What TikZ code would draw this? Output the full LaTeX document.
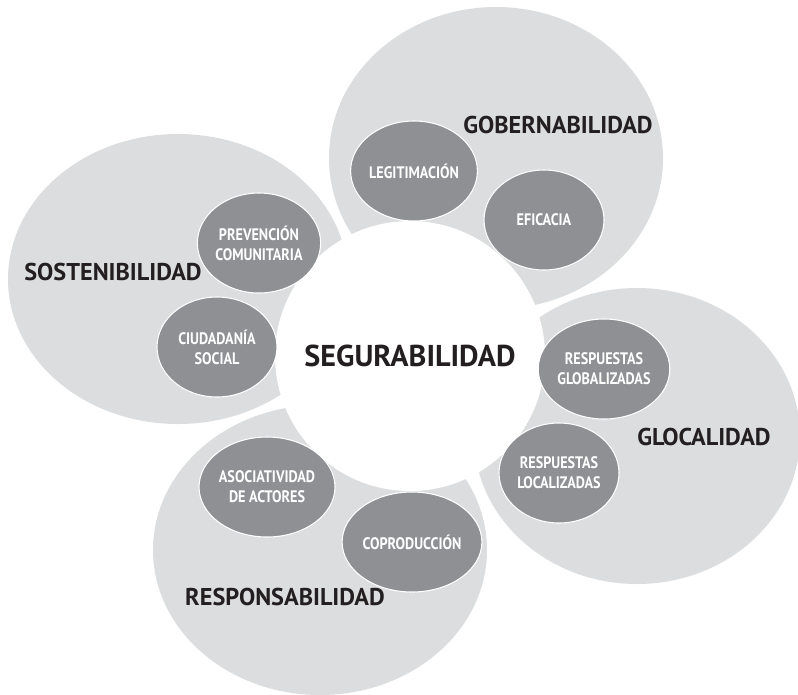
\documentclass[tikz,border=0pt]{standalone}
\usepackage{fontspec}
\setmainfont{PT Sans}
\usetikzlibrary{shapes.geometric}

\definecolor{petalgray}{HTML}{DCDDDE}
\definecolor{budgray}{HTML}{8F9093}
\definecolor{inkdark}{HTML}{231F20}

% horizontally condensed text for the small ellipses
\newcommand{\narrowtxt}[1]{\scalebox{0.85}[1]{#1}}

\tikzset{
  % one pixel of the layout = 0.75pt; y grows downwards
  x=0.75pt, y=-0.75pt,
  petal/.style 2 args={ellipse, fill=petalgray, draw=none, inner sep=0pt,
    minimum width=#1*1.5pt, minimum height=#2*1.5pt},
  bud/.style={ellipse, fill=budgray, draw=white, line width=0.8pt, inner sep=0pt,
    minimum width=90pt, minimum height=75pt, text=white, align=center,
    font=\bfseries\fontsize{12.5}{15}\selectfont},
  petallabel/.style={inner sep=0pt, text=inkdark,
    font=\bfseries\fontsize{18.2}{21}\selectfont},
  core/.style={circle, fill=white, draw=none, inner sep=0pt,
    minimum size=202.5pt, text=inkdark,
    font=\bfseries\fontsize{22.6}{26}\selectfont},
}

\begin{document}
\begin{tikzpicture}
\useasboundingbox (0,0) rectangle (798,694);
\fill[white] (0,0) rectangle (798,694);
\clip (0,0) rectangle (798,694);

% the four large petals
\node[petal={167}{151}] (gob)  at (496,158) {};
\node[petal={170}{145}] (sost) at (178,279) {};
\node[petal={163}{148}] (glo)  at (637,436) {};
\node[petal={167}{145}] (resp) at (320,550) {};

% central disc
\node[core] (seg) at (410,356) {SEGURABILIDAD};

% small ellipses
\node[bud] (legit) at (414,171) {\narrowtxt{LEGITIMACIÓN}};
\node[bud] (efic)  at (544,220) {\narrowtxt{EFICACIA}};
\node[bud] (prev)  at (259,243) {\narrowtxt{PREVENCIÓN}\\\narrowtxt{COMUNITARIA}};
\node[bud] (ciud)  at (217,347) {\narrowtxt{CIUDADANÍA}\\\narrowtxt{SOCIAL}};
\node[bud] (rglob) at (604,369) {\narrowtxt{RESPUESTAS}\\\narrowtxt{GLOBALIZADAS}};
\node[bud] (rloc)  at (559,473) {\narrowtxt{RESPUESTAS}\\\narrowtxt{LOCALIZADAS}};
\node[bud] (asoc)  at (267,487) {\narrowtxt{ASOCIATIVIDAD}\\\narrowtxt{DE ACTORES}};
\node[bud] (copro) at (412,542) {\narrowtxt{COPRODUCCIÓN}};

% petal titles
\node[petallabel] (tgob)  at (558,125) {GOBERNABILIDAD};
\node[petallabel] (tsost) at (113,272) {SOSTENIBILIDAD};
\node[petallabel] (tglo)  at (704,437) {GLOCALIDAD};
\node[petallabel] (tresp) at (285,597) {RESPONSABILIDAD};
\end{tikzpicture}
\end{document}
